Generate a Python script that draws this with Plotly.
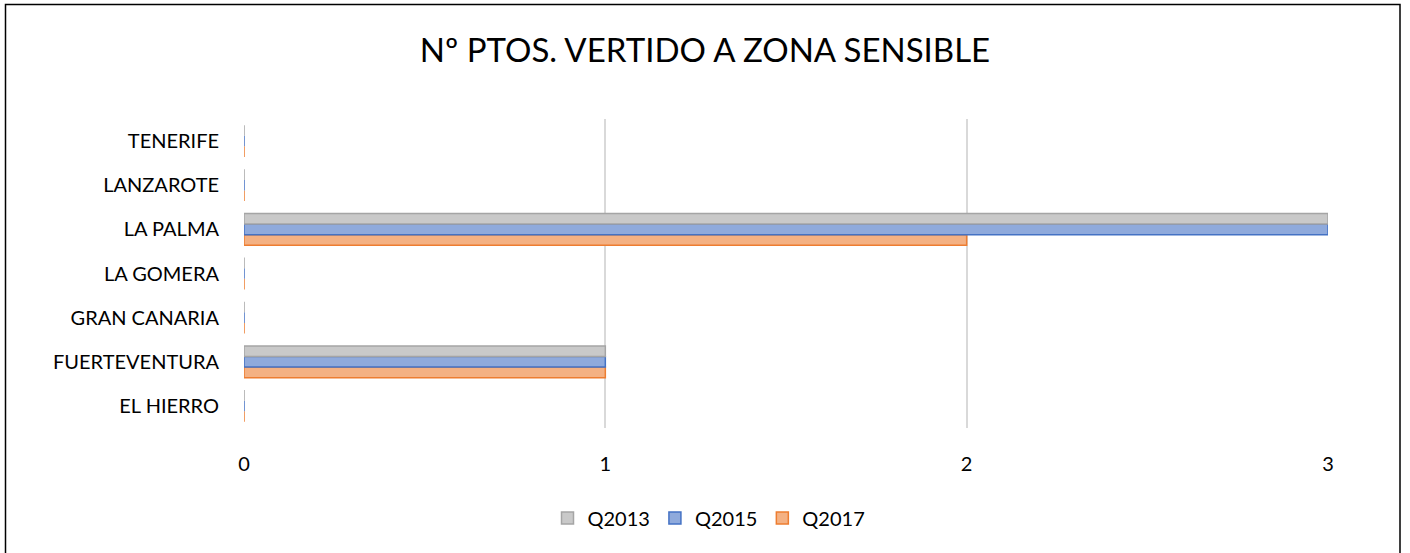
import plotly.graph_objects as go

categories = ["EL HIERRO", "FUERTEVENTURA", "GRAN CANARIA", "LA GOMERA", "LA PALMA", "LANZAROTE", "TENERIFE"]
q2013 = [0, 1, 0, 0, 3, 0, 0]
q2015 = [0, 1, 0, 0, 3, 0, 0]
q2017 = [0, 1, 0, 0, 2, 0, 0]
x_ticks = [0, 1, 2, 3]

W, H = 1410, 553
L, R, T, B = 244, 82, 119, 125
pw, ph = W - L - R, H - T - B

fig = go.Figure()
series = [
    ("Q2017", q2017, "#F4B183", "#ED7D31"),
    ("Q2015", q2015, "#8FAADC", "#4472C4"),
    ("Q2013", q2013, "#C9C9C9", "#A5A5A5"),
]
for name, vals, fill, line in series:
    fig.add_trace(go.Bar(
        y=categories, x=vals, name=name, orientation="h",
        marker=dict(color=fill, line=dict(color=line, width=1.5)),
    ))

fig.update_layout(
    width=W, height=H,
    margin=dict(l=L, r=R, t=T, b=B),
    paper_bgcolor="white", plot_bgcolor="white",
    barmode="group", bargap=0.28, bargroupgap=0,
    font=dict(family="Lato, Open Sans, sans-serif", color="#000000", size=20),
    title=dict(text="Nº PTOS. VERTIDO A ZONA SENSIBLE", x=0.5, xanchor="center",
               y=1 - 50 / H, yanchor="middle",
               font=dict(size=33, color="#000000")),
    xaxis=dict(range=[0, 3], tickvals=x_ticks, showgrid=True, gridcolor="#D9D9D9",
               gridwidth=1.5, zeroline=False, showline=False, ticks="",
               ticklabelstandoff=22, tickfont=dict(size=20)),
    yaxis=dict(showgrid=False, zeroline=False, showline=False, ticks="",
               ticklabelstandoff=24, tickfont=dict(size=20)),
    legend=dict(orientation="h", x=(709 - L) / pw, xanchor="center",
                y=(ph - (518 - T)) / ph, yanchor="middle",
                traceorder="reversed", font=dict(size=20)),
    showlegend=True,
)

fig.add_shape(type="rect", xref="paper", yref="paper",
              x0=(5.5 - L) / pw, x1=(1400 - L) / pw,
              y0=-(B + 5) / ph, y1=1 + (T - 4.5) / ph,
              line=dict(color="#000000", width=1.5), fillcolor="rgba(0,0,0,0)", layer="below")

fig.write_html("out.html", config={"displayModeBar": False},
               post_script="document.body.style.margin='0';")
